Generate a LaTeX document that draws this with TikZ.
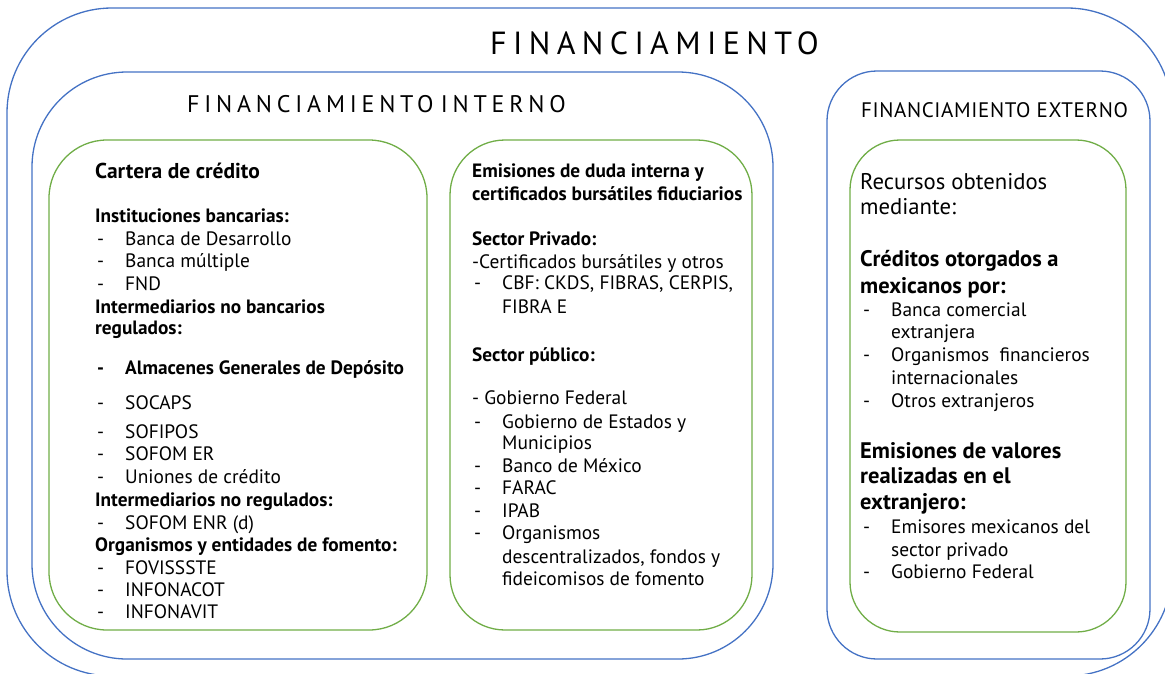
\documentclass[tikz,border=0pt]{standalone}
\usepackage{fontspec}
\setmainfont{PT Sans}
\newfontfamily\trackfont[LetterSpace=20]{PT Sans}
\newfontfamily\lighttrack[LetterSpace=3]{PT Sans}

\definecolor{frameblue}{HTML}{4472C4}
\definecolor{panelgreen}{HTML}{70AD47}

\tikzset{
	frame/.style = {draw = frameblue, line width = 1.3pt},
	panel/.style = {draw = panelgreen, line width = 1.3pt},
	txt/.style = {anchor = base west, inner sep = 0pt, font = \fontsize{19.4}{23}\selectfont},
	hd/.style = {txt, font = \fontsize{19.3}{23}\selectfont\bfseries},
	big/.style = {txt, font = \fontsize{22.7}{27}\selectfont},
	bigb/.style = {txt, font = \fontsize{22.5}{27}\selectfont\bfseries},
	title/.style = {anchor = west, inner sep = 0pt}
}

\begin{document}
\begin{tikzpicture}[x = 1pt, y = -1pt]

\useasboundingbox (0, 0) rectangle (1165, 673);
\clip (0, 0) rectangle (1165, 673);

% Blue frames

\draw [frame, rounded corners = 105pt] (7, 8) rectangle (1172, 676);
\draw [frame, rounded corners = 95pt] (32, 72) rectangle (773, 659);
\draw [frame, rounded corners = 50pt] (827, 71) rectangle (1150, 659);

% Green panels

\draw [panel, rounded corners = 58pt] (49, 140) rectangle (427, 630);
\draw [panel, rounded corners = 55pt] (450, 140) rectangle (752, 630);
\draw [panel, rounded corners = 50pt] (850, 140) rectangle (1126, 632);

% Titles

\node [title, font = \fontsize{32}{38}\trackfont] (fin) at (490, 43) {FINANCIAMIENTO};
\node [title, font = \fontsize{24}{29}\trackfont] (finint) at (187, 104) {FINANCIAMIENTO\hspace{-4pt} INTERNO};
\node [title, font = \fontsize{21}{26}\lighttrack] (finext) at (861, 110) {FINANCIAMIENTO EXTERNO};

% Cartera de credito

\node [txt, font = \fontsize{21.5}{26}\selectfont\bfseries] (cart) at (95, 178) {Cartera de crédito};
\foreach \y/\t [count = \i] in {222/Instituciones bancarias:, 313/Intermediarios no bancarios, 334/regulados:,
	506/Intermediarios no regulados:, 551/Organismos y entidades de fomento:}
	\node [hd] (carthd\i) at (95, \y) {\t};
\foreach \y/\t [count = \i] in {245/Banca de Desarrollo, 267/Banca múltiple, 290/FND, 409/SOCAPS, 438/SOFIPOS,
	460/SOFOM ER, 483/Uniones de crédito, 529/SOFOM ENR (d), 574/FOVISSSTE, 596/INFONACOT, 618/INFONAVIT}
{
	\node [txt] (cartdash\i) at (97, \y) {-};
	\node [txt] (cartitem\i) at (125, \y) {\t};
}
\node [hd] (almdash) at (97, 374) {-};
\node [hd] (alm) at (125, 374) {Almacenes Generales de Depósito};

% Emisiones de deuda interna

\foreach \y/\t [count = \i] in {177/Emisiones de duda interna y, 200/certificados bursátiles fiduciarios,
	245/Sector Privado:, 361/Sector público:}
	\node [hd] (emihd\i) at (472, \y) {\t};
\node [txt] (emicert) at (472, 268) {-Certificados bursátiles y otros};
\node [txt] (emigob) at (472, 404) {- Gobierno Federal};
\foreach \y/\t/\d [count = \i] in {289/{CBF: CKDS, FIBRAS, CERPIS,}/-, 313/FIBRA E/, 428/Gobierno de Estados y/-,
	449/Municipios/, 472/Banco de México/-, 494/FARAC/-, 517/IPAB/-, 539/Organismos/-,
	563/{descentralizados, fondos y}/, 585/fideicomisos de fomento/}
{
	\node [txt] (emidash\i) at (474, \y) {\d};
	\node [txt] (emiitem\i) at (502, \y) {\t};
}

% Financiamiento externo

\node [big] (rec1) at (860, 189) {Recursos obtenidos};
\node [big] (rec2) at (860, 214) {mediante:};
\foreach \y/\t [count = \i] in {266/Créditos otorgados a, 293/mexicanos por:, 458/Emisiones de valores,
	483/realizadas en el, 509/extranjero:}
	\node [bigb] (exthd\i) at (860, \y) {\t};
\foreach \y/\t/\d [count = \i] in {316/Banca comercial/-, 338/extranjera/, 361/Organismos\hspace{5pt} financieros/-,
	384/internacionales/, 407/Otros extranjeros/-, 533/Emisores mexicanos del/-, 556/sector privado/,
	578/Gobierno Federal/-}
{
	\node [txt] (extdash\i) at (863, \y) {\d};
	\node [txt] (extitem\i) at (891, \y) {\t};
}

\end{tikzpicture}
\end{document}
